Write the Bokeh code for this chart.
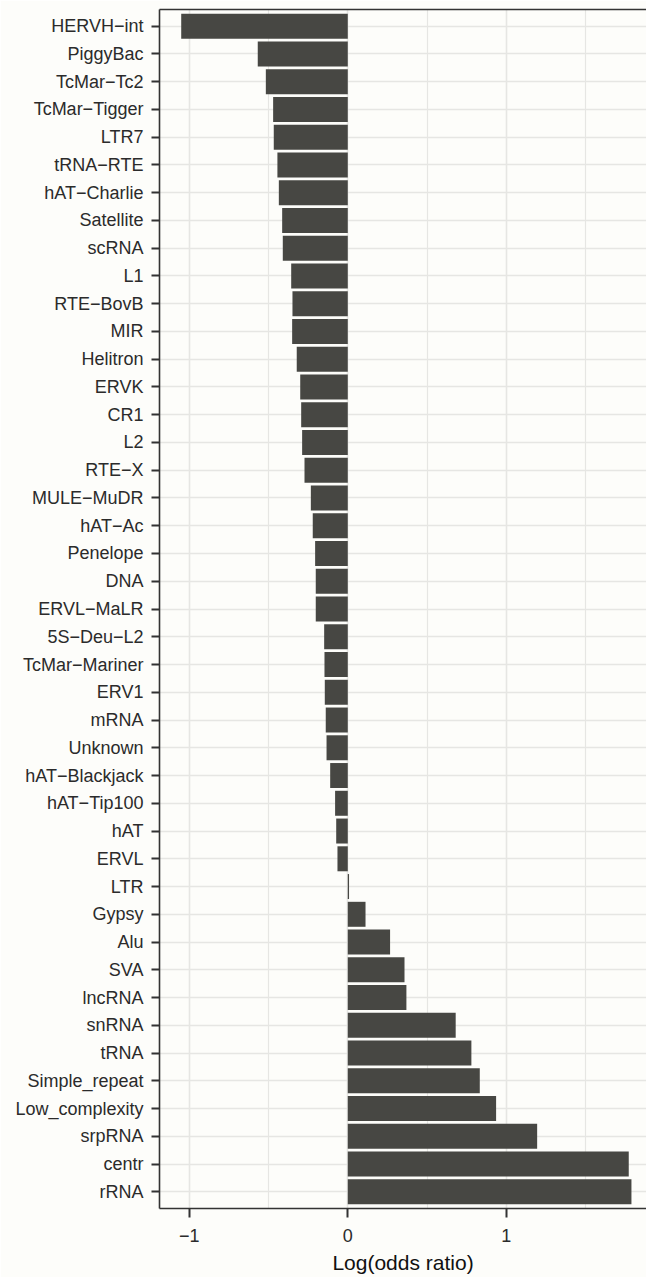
from bokeh.plotting import figure
from bokeh.models import FactorRange, Range1d, FixedTicker, LinearAxis, ColumnDataSource
from bokeh.embed import file_html
from bokeh.resources import INLINE

# Repeat families, top to bottom, and their log(odds ratio)
categories = [
    "HERVH-int", "PiggyBac", "TcMar-Tc2", "TcMar-Tigger", "LTR7", "tRNA-RTE",
    "hAT-Charlie", "Satellite", "scRNA", "L1", "RTE-BovB", "MIR", "Helitron",
    "ERVK", "CR1", "L2", "RTE-X", "MULE-MuDR", "hAT-Ac", "Penelope", "DNA",
    "ERVL-MaLR", "5S-Deu-L2", "TcMar-Mariner", "ERV1", "mRNA", "Unknown",
    "hAT-Blackjack", "hAT-Tip100", "hAT", "ERVL", "LTR", "Gypsy", "Alu", "SVA",
    "lncRNA", "snRNA", "tRNA", "Simple_repeat", "Low_complexity", "srpRNA",
    "centr", "rRNA",
]
log_odds = [
    -1.051, -0.568, -0.517, -0.471, -0.467, -0.444,
    -0.435, -0.414, -0.410, -0.357, -0.349, -0.351, -0.322,
    -0.300, -0.294, -0.288, -0.273, -0.233, -0.221, -0.206, -0.202,
    -0.202, -0.149, -0.147, -0.145, -0.139, -0.134,
    -0.111, -0.080, -0.073, -0.065, 0.008, 0.112, 0.267, 0.358,
    0.370, 0.681, 0.780, 0.833, 0.936, 1.195,
    1.773, 1.790,
]
x_ticks = [-1, 0, 1]
x_minor_ticks = [-0.5, 0.5, 1.5]

BG = "#FDFDFA"
BAR = "#474743"
GRID = "#E6E6E3"
AXIS = "#333333"
FONT = "Liberation Sans"

# names are shown with a typographic minus in place of the hyphen
labels = [c.replace("-", "\u2212") for c in categories]
source = ColumnDataSource(dict(cat=labels, val=log_odds))

# first factor sits at the bottom of a y FactorRange, so reverse the order
y_range = FactorRange(factors=labels[::-1], range_padding=0.1,
                      range_padding_units="absolute")

p = figure(width=646, height=1277, y_range=y_range,
           x_range=Range1d(-1.188, 1.885),
           output_backend="svg", toolbar_location=None,
           min_border_left=159, min_border_right=0,
           min_border_top=9, min_border_bottom=69)

p.hbar(y="cat", left=0, right="val", height=0.9, source=source,
       fill_color=BAR, line_color=None)

p.background_fill_color = BG
p.border_fill_color = BG
p.outline_line_color = None

# grid
p.xaxis.ticker = FixedTicker(ticks=x_ticks, minor_ticks=x_minor_ticks)
p.xgrid.grid_line_color = GRID
p.xgrid.grid_line_width = 1.6
p.xgrid.minor_grid_line_color = GRID
p.xgrid.minor_grid_line_width = 1.2
p.ygrid.grid_line_color = GRID
p.ygrid.grid_line_width = 1.6

# x axis
xa = p.xaxis[0]
xa.axis_line_color = AXIS
xa.axis_line_width = 1.6
xa.major_tick_line_color = AXIS
xa.major_tick_line_width = 2
xa.major_tick_out = 9
xa.major_tick_in = 0
xa.minor_tick_line_color = None
xa.major_label_text_font = FONT
xa.major_label_text_font_size = "18px"
xa.major_label_text_color = "#2b2b2b"
xa.major_label_standoff = 11
xa.major_label_overrides = {-1: "\u22121", 0: "0", 1: "1"}
xa.axis_label = "Log(odds ratio)"
xa.axis_label_text_font = FONT
xa.axis_label_text_font_size = "21px"
xa.axis_label_text_font_style = "normal"
xa.axis_label_text_color = "#111111"
xa.axis_label_standoff = 6

# y axis
ya = p.yaxis[0]
ya.axis_line_color = AXIS
ya.axis_line_width = 1.6
ya.major_tick_line_color = AXIS
ya.major_tick_line_width = 2
ya.major_tick_out = 8
ya.major_tick_in = 0
ya.major_label_text_font = FONT
ya.major_label_text_font_size = "18px"
ya.major_label_text_color = "#2b2b2b"
ya.major_label_standoff = 8

# top border of the panel: an axis line with no ticks or labels
top = LinearAxis(ticker=FixedTicker(ticks=[], minor_ticks=[]),
                 axis_line_color=AXIS, axis_line_width=1.6,
                 major_tick_line_color=None, minor_tick_line_color=None,
                 major_label_standoff=0, major_tick_out=0, major_tick_in=0)
p.add_layout(top, "above")

open("out.html", "w").write(file_html(p, INLINE))
